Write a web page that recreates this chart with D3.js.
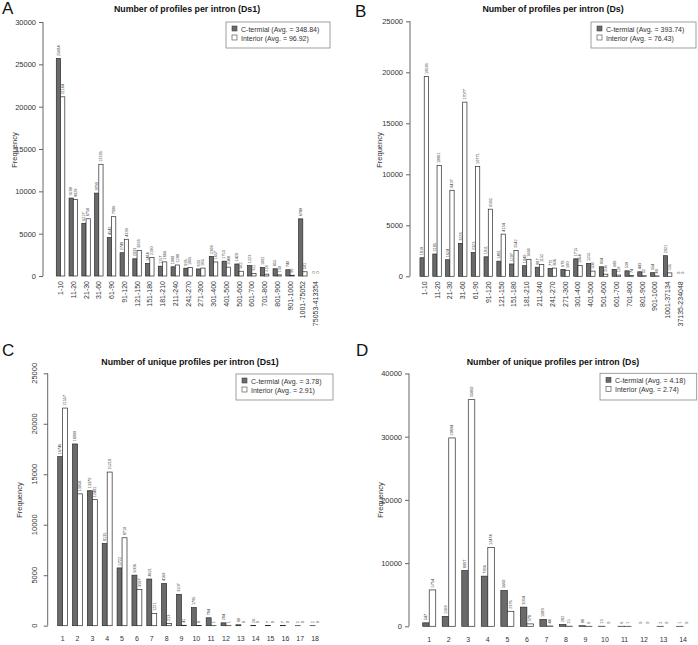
<!DOCTYPE html>
<html><head><meta charset="utf-8">
<script src="https://cdn.jsdelivr.net/npm/d3@7"></script>
<style>body{margin:0;background:#fff} svg{display:block;font-family:"Liberation Sans",Arial,sans-serif}</style>
</head><body><svg id="c" width="698" height="645"></svg>
<script>
// ---------- DATA ----------
const catsA = ["1-10","11-20","21-30","31-60","61-90","91-120","121-150","151-180","181-210","211-240","241-270","271-300","301-400","401-500","501-600","601-700","701-800","801-900","901-1000","1001-75052","75053-413354"];
const ctermA = [25684,9209,6227,9790,4545,2749,2033,1484,1157,1088,926,833,2308,1753,1420,1223,1001,855,740,6749,0];
const interiorA = [21164,9029,6758,13195,7006,4339,3018,2190,1666,1299,1005,935,1657,1048,562,311,218,130,90,501,0];
const ticksA = [0,5000,10000,15000,20000,25000,30000];

const catsB = ["1-10","11-20","21-30","31-60","61-90","91-120","121-150","151-180","181-210","211-240","241-270","271-300","301-400","401-500","501-600","601-700","701-800","801-900","901-1000","1001-37134","37135-234048"];
const ctermB = [1819,2185,1624,3228,2323,1911,1481,1207,1040,887,772,670,1715,1255,934,680,539,443,354,2021,0];
const interiorB = [19593,10861,8437,17077,10771,6582,4134,2542,1668,1152,806,590,1064,508,208,119,74,52,40,335,0];
const ticksB = [0,5000,10000,15000,20000,25000];

const catsC = ["1","2","3","4","5","6","7","8","9","10","11","12","13","14","15","16","17","18"];
const ctermC = [16746,18000,13370,8135,5722,5006,4621,4169,3107,1795,784,284,90,26,7,7,2,2];
const interiorC = [21557,13058,12481,15218,8710,3597,1221,213,41,8,1,1,0,0,0,0,0,0];
const ticksC = [0,5000,10000,15000,20000,25000];

const catsD = ["1","2","3","4","5","6","7","8","9","10","11","12","13","14"];
const ctermD = [547,1568,8807,7936,5660,3034,1089,282,88,13,6,0,2,1];
const interiorD = [5754,29804,35860,12474,2376,378,44,15,6,0,1,0,0,0];
const ticksD = [0,10000,20000,30000,40000];

const legendLabels = {
  A: ["C-termial (Avg. = 348.84)", "Interior (Avg. = 96.92)"],
  B: ["C-termial (Avg. = 393.74)", "Interior (Avg. = 76.43)"],
  C: ["C-termial (Avg. = 3.78)", "Interior (Avg. = 2.91)"],
  D: ["C-termial (Avg. = 4.18)", "Interior (Avg. = 2.74)"]
};
const titles = {
  A: "Number of profiles per intron (Ds1)",
  B: "Number of profiles per intron (Ds)",
  C: "Number of unique profiles per intron (Ds1)",
  D: "Number of unique profiles per intron (Ds)"
};

// ---------- DRAW ----------
const svg = d3.select("#c");
const DARK = "#6a6a6a", STROKE = "#2a2a2a", TXT = "#333", AX = "#666";

function panel(p) {
  const g = svg.append("g");
  const n = p.cats.length;
  const y = d3.scaleLinear().domain([0, p.yMax]).range([p.y0, p.yTop]);
  const x = d3.scaleLinear().domain([0, 3 * n]).range([p.xStart, p.xStart + 3 * n * p.unit]);

  // letter
  g.append("text").attr("x", p.letter[1]).attr("y", p.letter[2]).attr("font-size", 17).attr("fill", "#111").text(p.letter[0]);
  // title
  g.append("text").attr("x", p.title[1]).attr("y", p.title[2]).attr("text-anchor", "middle")
    .attr("font-size", 8.8).attr("font-weight", "bold").attr("fill", "#111").text(p.title[0]);

  // y axis
  const ax = g.append("g").attr("transform", `translate(${p.axisX},0)`)
    .call(d3.axisLeft(y).tickValues(p.ticks).tickSize(4).tickPadding(3).tickFormat(d3.format("d")));
  ax.select(".domain").attr("stroke", AX).attr("d", `M-0.5,${y(0)}V${y(p.yMax)}`).attr("transform","translate(0.5,0)");
  ax.selectAll(".tick line").attr("stroke", AX);
  ax.selectAll(".tick text").attr("font-size", 7.5).attr("fill", TXT).attr("font-family", "Liberation Sans, Arial, sans-serif");
  if (p.rotTicks) {
    ax.selectAll(".tick text").attr("text-anchor", "middle").attr("x", 0).attr("dy", 0)
      .attr("transform", d => `translate(${-p.axisX + p.rotTickX},${y(d)}) rotate(-90)`)
      .attr("y", 0);
    ax.selectAll(".tick").attr("transform", null);
    ax.selectAll(".tick line").attr("transform", d => `translate(0,${y(d) + 0.5})`);
  }

  // y label
  g.append("text").attr("transform", `translate(${p.ylab[0]},${p.ylab[1]}) rotate(-90)`)
    .attr("text-anchor", "middle").attr("font-size", 7.5).attr("fill", TXT).text("Frequency");

  const series = [
    { vals: p.dark, off: 1, fill: DARK },
    { vals: p.white, off: 2, fill: "#fff" }
  ];
  series.forEach(s => {
    g.append("g").selectAll("rect").data(s.vals).join("rect")
      .attr("x", (d, i) => x(3 * i + s.off))
      .attr("width", x(1) - x(0))
      .attr("y", d => y(d))
      .attr("height", d => y(0) - y(d))
      .attr("fill", s.fill).attr("stroke", STROKE).attr("stroke-width", 0.7);
    g.append("g").selectAll("text").data(s.vals).join("text")
      .attr("transform", (d, i) => `translate(${x(3 * i + s.off + 0.5) + 1.3},${y(d) - 2.5}) rotate(-90)`)
      .attr("font-size", 3.8).attr("fill", "#444").text(d => d);
  });

  // category labels
  const cl = g.append("g").selectAll("text").data(p.cats).join("text")
    .attr("font-size", 7).attr("fill", TXT).text(d => d);
  if (p.rotCats) {
    cl.attr("text-anchor", "end")
      .attr("transform", (d, i) => `translate(${x(3 * i + 2) + 2.5},${p.y0 + 5}) rotate(-90)`);
  } else {
    cl.attr("text-anchor", "middle").attr("x", (d, i) => x(3 * i + 2)).attr("y", p.catY);
  }

  // legend
  const L = p.legend;
  const lg = g.append("g");
  lg.append("rect").attr("x", L.x).attr("y", L.y).attr("width", L.w).attr("height", L.h)
    .attr("fill", "#fff").attr("stroke", "#888").attr("stroke-width", 0.8);
  p.legLabels.forEach((t, i) => {
    const yy = L.y + 9.5 + i * 9;
    lg.append("rect").attr("x", L.x + 6).attr("y", yy - 5.5).attr("width", 5).attr("height", 5)
      .attr("fill", i === 0 ? DARK : "#fff").attr("stroke", "#444").attr("stroke-width", 0.6);
    lg.append("text").attr("x", L.x + 15).attr("y", yy).attr("font-size", 7).attr("fill", TXT).text(t);
  });
}

panel({ letter: ["A", 2, 14], title: [titles.A, 187, 12], axisX: 43, y0: 276, yTop: 22, yMax: 30000, ticks: ticksA,
  xStart: 52.05, unit: 4.25, cats: catsA, dark: ctermA, white: interiorA, rotCats: true,
  legend: { x: 226, y: 22, w: 104, h: 26 }, legLabels: legendLabels.A, ylab: [17, 150] });

panel({ letter: ["B", 355, 17], title: [titles.B, 553, 12], axisX: 410, y0: 276.3, yTop: 21.3, yMax: 25000, ticks: ticksB,
  xStart: 415.7, unit: 4.27, cats: catsB, dark: ctermB, white: interiorB, rotCats: true,
  legend: { x: 591, y: 22, w: 105, h: 26 }, legLabels: legendLabels.B, ylab: [382, 150] });

panel({ letter: ["C", 2, 356], title: [titles.C, 190, 365], axisX: 47.7, y0: 625.7, yTop: 373.3, yMax: 25000, ticks: ticksC,
  rotTicks: true, rotTickX: 37,
  xStart: 52.75, unit: 4.95, cats: catsC, dark: ctermC, white: interiorC, rotCats: false, catY: 641,
  legend: { x: 236, y: 374, w: 97, h: 26 }, legLabels: legendLabels.C, ylab: [22, 500] });

panel({ letter: ["D", 356, 356], title: [titles.D, 553, 365], axisX: 409, y0: 626.3, yTop: 373.5, yMax: 40000, ticks: ticksD,
  xStart: 416.2, unit: 6.51, cats: catsD, dark: ctermD, white: interiorD, rotCats: false, catY: 642,
  legend: { x: 600, y: 373.3, w: 96.7, h: 26.7 }, legLabels: legendLabels.D, ylab: [383, 500] });
</script></body></html>
